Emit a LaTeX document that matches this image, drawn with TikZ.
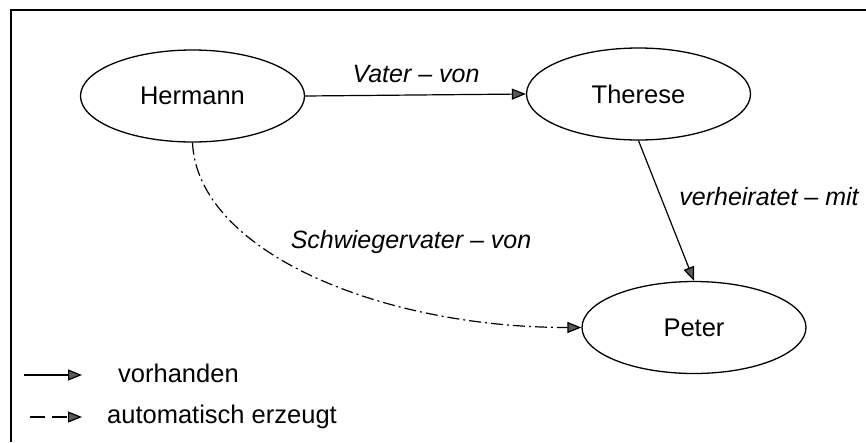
\documentclass[tikz,border=0pt]{standalone}
\usepackage{fontspec}
\setmainfont{Liberation Sans}
\usetikzlibrary{shapes.geometric,arrows.meta}
\begin{document}
\begin{tikzpicture}[x=1pt,y=-1pt,
  every node/.style={font=\fontsize{25.5}{30}\selectfont},
  entity/.style={draw, ellipse, line width=1.3pt, minimum width=224pt, minimum height=92pt, inner sep=0pt},
  rel/.style={font=\fontsize{25}{30}\selectfont\itshape, anchor=base, inner sep=0pt},
  legtext/.style={anchor=base west, inner sep=0pt},
  link/.style={line width=1.2pt, -{Triangle[length=14pt,width=11pt,fill=black!65]}},
  derived/.style={link, dash pattern=on 12pt off 4pt on 2pt off 4pt},
  legderived/.style={link, dash pattern=on 15pt off 7pt},
  frameline/.style={line width=1.6pt}]
\useasboundingbox (0,0) rectangle (866,442);
% frame
\coordinate (fa) at (11,442);
\coordinate (fb) at (11,10);
\coordinate (fc) at (866,10);
\draw[frameline] (fa) -- (fb) -- (fc);
% entities
\node[entity] (H) at (192.5,96) {Hermann};
\node[entity] (T) at (638.5,94) {Therese};
\node[entity] (P) at (694,327.5) {Peter};
% relations
\draw[link] (H.east) -- (T.west);
\draw[link] (T.south) -- (P.north);
\draw[derived] (H.south) .. controls +(5,108) and +(-203,0) .. (P.west);
% labels
\node[rel] (lv) at (416,82) {Vater – von};
\node[rel] (lm) at (769,205) {verheiratet – mit};
\node[rel] (ls) at (411,248) {Schwiegervater – von};
% legend
\coordinate (l1a) at (24,375);
\coordinate (l1b) at (82,375);
\coordinate (l2a) at (30,417);
\coordinate (l2b) at (82,417);
\draw[link] (l1a) -- (l1b);
\draw[legderived] (l2a) -- (l2b);
\node[legtext] (t1) at (118,382) {vorhanden};
\node[legtext] (t2) at (107,423) {automatisch erzeugt};
\end{tikzpicture}
\end{document}
